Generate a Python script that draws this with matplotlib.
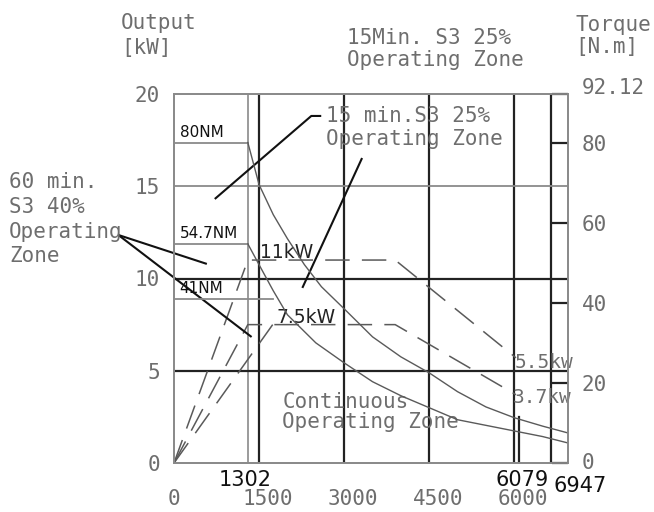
import matplotlib
matplotlib.use('Agg')
import matplotlib.pyplot as plt
from matplotlib.transforms import ScaledTranslation

# ---------------------------------------------------------------- data ---- #

x_ticks = [0, 1500, 3000, 4500, 6000]
kw_ticks = [0, 5, 10, 15, 20]
nm_ticks = [0, 20, 40, 60, 80, 92.12]
nm_labels = ['0', '20', '40', '60', '80', '92.12']
mark_speeds = [1302, 6079, 6947]

max_speed = 6947
max_kw = 20
max_nm = 92.12
base_speed = 1302
cont_speed = 1740
limit_speed = 6079
limit_kw = 2.5
strip_speed = 6650

dark_speeds = [1500, 3000, 4500, 6000, strip_speed]
dark_kw = [5, 10]
grey_kw = [15]

# rated torques [N.m]
nm_s3_15 = 80
nm_s3_60 = 54.7
nm_cont = 41

# torque curves above base speed [rpm] / [N.m]
s3_15_rpm = [1302, 1500, 1750, 2000, 2300, 2600, 3000, 3500, 4000, 4500, 5000, 5500, 6000, 6500, 6947]
s3_15_nm = [80, 69.5, 62, 56, 49.5, 44, 38.5, 31.5, 26.5, 22.5, 17.8, 14.0, 11.3, 9.2, 7.5]
s3_60_rpm = [1302, 1500, 1750, 2000, 2500, 3000, 3500, 4000, 4500, 5000, 5500, 6000, 6500, 6947]
s3_60_nm = [54.7, 49.5, 43.0, 37.0, 30.0, 25.0, 20.3, 16.8, 13.8, 10.8, 9.4, 8.0, 6.6, 5.0]

# power curves [rpm] / [kW]
p11_rpm = [0, 1302, 3900, 6030]
p11_kw = [0, 11, 11, 5.7]
p75_rpm = [0, 1302, 3900, 6030]
p75_kw = [0, 7.5, 7.5, 3.7]
pcont_rpm = [0, 1740]
pcont_kw = [0, 7.5]

GREY_TXT = '#6e6e6e'
DARK = '#222222'
GREY = '#8a8a8a'
CURVE = '#5a5a5a'
CAD = 'DejaVu Sans Mono'

# ---------------------------------------------------------------- figure -- #

W, H = 654, 512
fig = plt.figure(figsize=(W / 100, H / 100), dpi=100)
fig.patch.set_facecolor('white')

ax = fig.add_axes([174 / W, 1 - 463 / H, (568 - 174) / W, (463 - 94) / H])
ax.set_xlim(0, max_speed)
ax.set_ylim(0, max_kw)
ax2 = ax.twinx()
ax2.set_ylim(0, max_nm)

for a in (ax, ax2):
    for s in a.spines.values():
        s.set_color(GREY)
        s.set_linewidth(1.3)

# grid
for v in dark_speeds:
    ax.axvline(v, color=DARK, lw=1.6)
ax.axvline(base_speed, color=GREY, lw=1.2)
ax.plot([limit_speed, limit_speed], [0, limit_kw], color=DARK, lw=1.6)
for h in dark_kw:
    ax.axhline(h, color=DARK, lw=1.6)
for h in grey_kw:
    ax.axhline(h, color=GREY, lw=1.3)

# torque lines
ax2.plot([0, base_speed], [nm_s3_15, nm_s3_15], color=GREY, lw=1.3)
ax2.plot([0, base_speed], [nm_s3_60, nm_s3_60], color=GREY, lw=1.3)
ax2.plot([0, cont_speed], [nm_cont, nm_cont], color=GREY, lw=1.3)
ax2.plot(s3_15_rpm, s3_15_nm, color=CURVE, lw=1.0)
ax2.plot(s3_60_rpm, s3_60_nm, color=CURVE, lw=1.0)

# power lines
dash = (0, (16, 8))
ax.plot(p11_rpm, p11_kw, color=CURVE, lw=1.1, ls=dash)
ax.plot(p75_rpm, p75_kw, color=CURVE, lw=1.1, ls=dash)
ax.plot(pcont_rpm, pcont_kw, color=CURVE, lw=1.1, ls=dash)

# ticks
ax.set_xticks(x_ticks)
ax.set_yticks(kw_ticks)
ax.tick_params(axis='both', length=0, labelsize=15, labelcolor=GREY_TXT,
               labelfontfamily=CAD)
ax.tick_params(axis='x', pad=19)
ax.tick_params(axis='y', pad=10)
off = ScaledTranslation(9 / 100, 0, fig.dpi_scale_trans)
for lbl in ax.get_xticklabels()[1:]:
    lbl.set_transform(lbl.get_transform() + off)

ax.set_xticks(mark_speeds, minor=True)
ax.set_xticklabels([str(s) for s in mark_speeds], minor=True)
ax.tick_params(axis='x', which='minor', length=0, pad=5, labelsize=15,
               labelcolor='#111111', labelfontfamily='DejaVu Sans')
shifts = [(-3, 0), (3, 0), (12, -6)]
for lbl, (dx, dy) in zip(ax.get_xticklabels(minor=True), shifts):
    lbl.set_transform(lbl.get_transform() + ScaledTranslation(dx / 100, dy / 100, fig.dpi_scale_trans))

ax2.set_yticks(nm_ticks)
ax2.set_yticklabels(nm_labels)
ax2.tick_params(axis='y', direction='in', length=11.5, width=1.6, color=DARK,
                pad=10, labelsize=15, labelcolor=GREY_TXT, labelfontfamily=CAD)
top_lbl = ax2.get_yticklabels()[-1]
top_lbl.set_transform(top_lbl.get_transform() + ScaledTranslation(0, 8 / 100, fig.dpi_scale_trans))
bot_lbl = ax2.get_yticklabels()[0]
bot_lbl.set_transform(bot_lbl.get_transform() + ScaledTranslation(0, 2 / 100, fig.dpi_scale_trans))

# labels on lines
ax2.text(100, nm_s3_15 + 0.6, '80NM', fontsize=11, color='#111111', va='bottom')
ax2.text(100, nm_s3_60 + 0.6, '54.7NM', fontsize=11, color='#111111', va='bottom')
ax2.text(100, nm_cont + 0.6, '41NM', fontsize=11, color='#111111', va='bottom')
ax.text(1510, 11.1, '11kW', fontsize=13.5, color='#222222', va='baseline')
ax.text(1800, 7.6, '7.5kW', fontsize=13.5, color='#222222', va='baseline')
ax.text(6010, 5.15, '5.5kw', fontsize=14, color=GREY_TXT, va='baseline',
        family=CAD, clip_on=False)
ax.text(5980, 3.25, '3.7kw', fontsize=14, color=GREY_TXT, va='baseline',
        family=CAD, clip_on=False)
ax.text(1912, 3.85, 'Continuous\nOperating Zone', fontsize=15, color=GREY_TXT,
        va='top', linespacing=1.0, family=CAD)
ax.text(2684, 19.35, '15 min.S3 25%\nOperating Zone', fontsize=15, color=GREY_TXT,
        va='top', linespacing=1.2, family=CAD)

# leaders
LEAD = dict(color='#111111', lw=1.5, clip_on=False, solid_capstyle='butt')
ax.plot([2596, 2421, 719], [18.81, 18.81, 14.31], **LEAD)
ax.plot([3316, 2263], [16.53, 9.49], **LEAD)
ax.plot([-982, 579], [12.36, 10.79], **LEAD)
ax.plot([-982, 1368], [12.36, 6.83], **LEAD)

# outer texts (figure pixels)
def ftext(x, y, s, **kw):
    fig.text(x / W, 1 - y / H, s, va='top', ha='left', color=GREY_TXT,
             family=CAD, **kw)

ftext(121, 13, 'Output\n[kW]', fontsize=15, linespacing=1.3)
ftext(575, 15, 'Torque\n[N.m]', fontsize=15, linespacing=1.15)
ftext(347, 28, '15Min. S3 25%\nOperating Zone', fontsize=15, linespacing=1.1)
ftext(9, 172, '60 min.\nS3 40%\nOperating\nZone', fontsize=15, linespacing=1.3)

fig.savefig('out.png', dpi=100)
